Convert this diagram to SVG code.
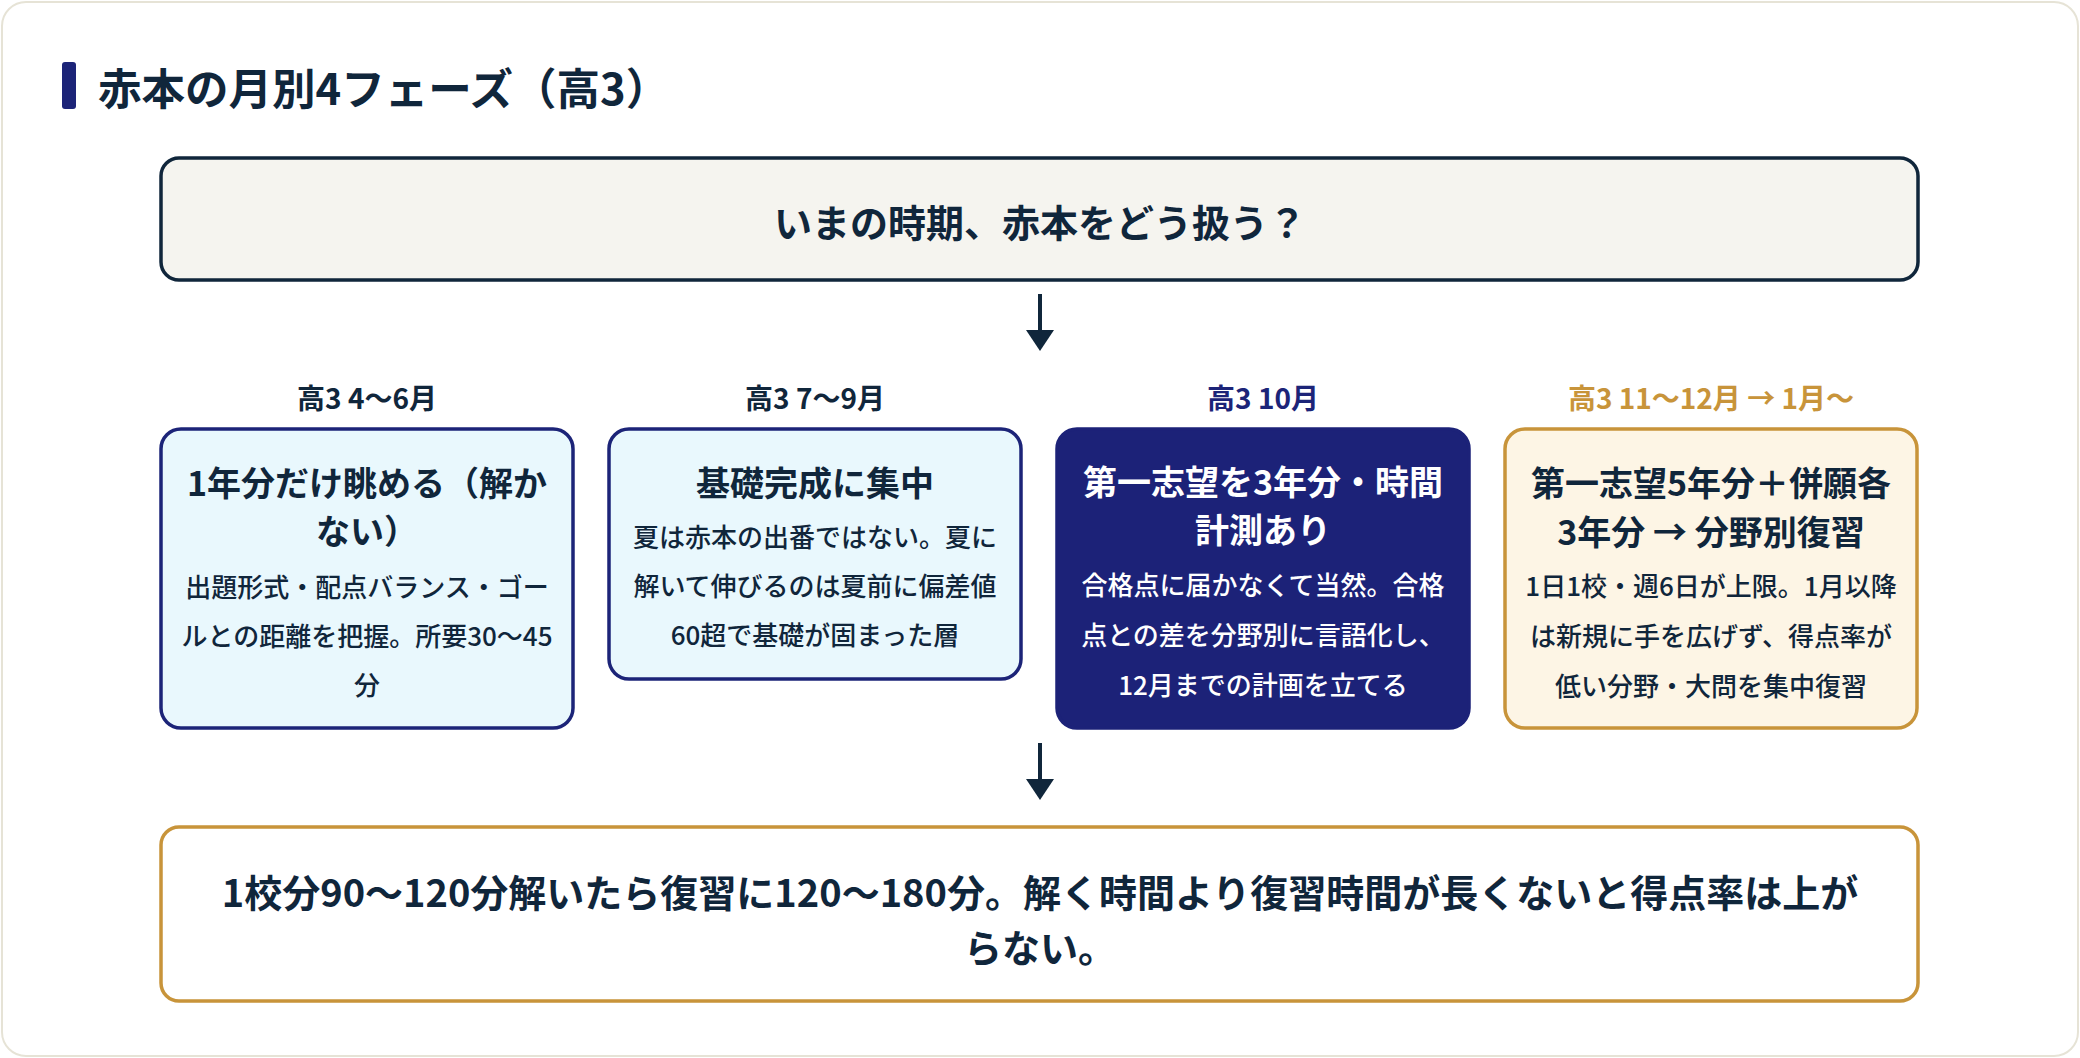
<svg xmlns="http://www.w3.org/2000/svg" width="2080" height="1058" viewBox="0 0 2080 1058">
<defs>
<style>
text{font-family:"Noto Sans CJK JP","Noto Sans",sans-serif;dominant-baseline:central;fill:#10263b}
.ttl{font-size:43.5px;font-weight:700}
.q{font-size:38px;font-weight:700;text-anchor:middle}
.ph{font-size:28px;font-weight:700;text-anchor:middle}
.bt{font-size:34px;font-weight:700;text-anchor:middle}
.bd{font-size:26px;font-weight:500;text-anchor:middle}
.lb{fill:#e9f8fd;stroke:#1c2478;stroke-width:3.5}
.wh{fill:#ffffff}
.arr{stroke:#10263b;stroke-width:4;fill:none}
</style>
</defs>
<rect x="2" y="2" width="2076" height="1054" rx="24" fill="#ffffff" stroke="#e6e3d6" stroke-width="2"/>
<g id="title">
<rect x="62" y="62" width="14" height="47" rx="3" fill="#1c2478"/>
<text class="ttl" x="98" y="86">赤本の月別4フェーズ（高3）</text>
</g>
<g id="question">
<rect x="161" y="158" width="1757" height="122" rx="18" fill="#f5f4ef" stroke="#10263b" stroke-width="3.5"/>
<text class="q" x="1040" y="220">いまの時期、赤本をどう扱う？</text>
</g>
<g id="connectors">
<line class="arr" x1="1040" y1="294" x2="1040" y2="330"/>
<path d="M1026,330 L1054,330 L1040,351 Z" fill="#10263b"/>
<line class="arr" x1="1040" y1="743" x2="1040" y2="779"/>
<path d="M1026,779 L1054,779 L1040,800 Z" fill="#10263b"/>
</g>
<g id="phase1">
<text class="ph" x="367" y="397">高3 4〜6月</text>
<rect class="lb" x="161" y="429" width="412" height="299" rx="20"/>
<text class="bt" x="367" y="481">1年分だけ眺める（解か</text>
<text class="bt" x="367" y="529">ない）</text>
<text class="bd" x="367" y="585">出題形式・配点バランス・ゴー</text>
<text class="bd" x="367" y="634">ルとの距離を把握。所要30〜45</text>
<text class="bd" x="367" y="683">分</text>
</g>
<g id="phase2">
<text class="ph" x="815" y="397">高3 7〜9月</text>
<rect class="lb" x="609" y="429" width="412" height="250" rx="20"/>
<text class="bt" x="815" y="481">基礎完成に集中</text>
<text class="bd" x="815" y="535">夏は赤本の出番ではない。夏に</text>
<text class="bd" x="815" y="584">解いて伸びるのは夏前に偏差値</text>
<text class="bd" x="815" y="633">60超で基礎が固まった層</text>
</g>
<g id="phase3">
<text class="ph" x="1263" y="397" style="fill:#1c2478">高3 10月</text>
<rect x="1057" y="429" width="412" height="299" rx="20" fill="#1c2278" stroke="#1c2278" stroke-width="3.5"/>
<text class="bt wh" x="1263" y="480">第一志望を3年分・時間</text>
<text class="bt wh" x="1263" y="528">計測あり</text>
<text class="bd wh" x="1263" y="583">合格点に届かなくて当然。合格</text>
<text class="bd wh" x="1263" y="633">点との差を分野別に言語化し、</text>
<text class="bd wh" x="1263" y="683">12月までの計画を立てる</text>
</g>
<g id="phase4">
<text class="ph" x="1711" y="397" style="fill:#c8943a">高3 11〜12月 → 1月〜</text>
<rect x="1505" y="429" width="412" height="299" rx="20" fill="#fdf5e5" stroke="#c8943a" stroke-width="3.5"/>
<text class="bt" x="1711" y="481">第一志望5年分＋併願各</text>
<text class="bt" x="1711" y="530">3年分 → 分野別復習</text>
<text class="bd" x="1711" y="584">1日1校・週6日が上限。1月以降</text>
<text class="bd" x="1711" y="634">は新規に手を広げず、得点率が</text>
<text class="bd" x="1711" y="684">低い分野・大問を集中復習</text>
</g>
<g id="summary">
<rect x="161" y="827" width="1757" height="174" rx="18" fill="#ffffff" stroke="#c8943a" stroke-width="3.5"/>
<text class="q" x="1040" y="890">1校分90〜120分解いたら復習に120〜180分。解く時間より復習時間が長くないと得点率は上が</text>
<text class="q" x="1040" y="945">らない。</text>
</g>
</svg>
